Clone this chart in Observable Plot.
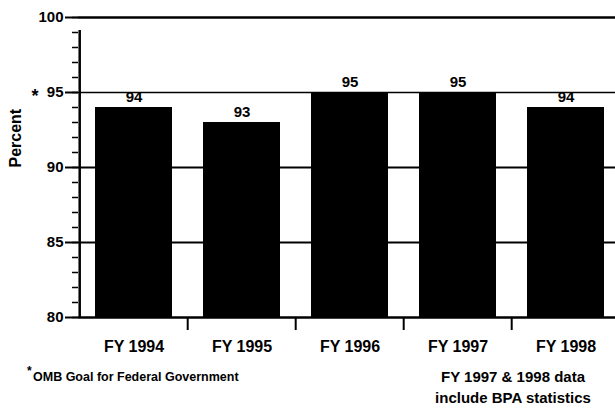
<!DOCTYPE html>
<html><head><meta charset="utf-8">
<script src="https://cdn.jsdelivr.net/npm/d3@7"></script>
<script src="https://cdn.jsdelivr.net/npm/@observablehq/plot@0.6"></script>
<style>
body{margin:0;background:#fff;}
#wrap{position:relative;width:615px;height:409px;overflow:hidden;font-family:"Liberation Sans",Arial,sans-serif;font-weight:bold;color:#000;}
#chart{position:absolute;left:0;top:0;}
.note{position:absolute;white-space:nowrap;line-height:1;}
</style></head><body><div id="wrap"><div id="chart"></div>
<div class="note" style="left:27px;top:365px;font-size:12px;">*</div>
<div class="note" id="foot" style="left:33px;top:371px;font-size:12.5px;"></div>
<div class="note" id="n1" style="left:433px;top:369px;width:160px;text-align:center;font-size:15px;"></div>
<div class="note" id="n2" style="left:433px;top:390px;width:160px;text-align:center;font-size:15px;"></div>
</div>
<script>
const years = ["FY 1994","FY 1995","FY 1996","FY 1997","FY 1998"];
const percents = [94,93,95,95,94];
const majorTicks = [80,85,90,95,100];
const minorTicks = d3.range(80,101);
const gridLines = [85,90];
const topLine = [100];
const goal = 95;
const footnote = "OMB Goal for Federal Government";
const noteLines = ["FY 1997 & 1998 data","include BPA statistics"];

const data = years.map((y,i)=>({year:y, value:percents[i]}));
const left = 78, right = 621, step = (right-left)/years.length;
const chart = Plot.plot({
  width:615, height:365, marginTop:17, marginBottom:48, marginLeft:78, marginRight:0,
  style:{fontFamily:"Liberation Sans, Arial, sans-serif", fontWeight:"bold", background:"#fff", color:"#000", overflow:"visible"},
  x:{type:"band", domain:years, range:[left,right], paddingInner:0.29, paddingOuter:0.145},
  y:{domain:[80,100]},
  marks:[
    Plot.ruleY(gridLines,{stroke:"#000", strokeWidth:2}),
    Plot.ruleY([goal],{stroke:"#000", strokeWidth:1.5}),
    Plot.ruleY(topLine,{stroke:"#000", strokeWidth:2.5}),
    Plot.barY(data,{x:"year", y1:80, y2:"value", fill:"#000"}),
    Plot.ruleY([80],{stroke:"#000", strokeWidth:2.5}),
    Plot.ruleX([years[0]],{dx:-step/2, y1:80, y2:100, insetBottom:-13, stroke:"#000", strokeWidth:2.5}),
    Plot.ruleX(years.slice(1),{dx:-step/2, y1:80, y2:80, insetBottom:-13, stroke:"#000", strokeWidth:2}),
    Plot.axisY({ticks:minorTicks, tickSize:6, tickFormat:()=>"", label:null, stroke:"#000", strokeWidth:1.5}),
    Plot.axisY({ticks:majorTicks, tickSize:13, tickPadding:2, fontSize:15, label:null, stroke:"#000", fill:"#000", strokeWidth:2}),
    Plot.axisX({tickSize:0, tickPadding:23, fontSize:16, label:null, fill:"#000"}),
    Plot.text(data,{x:"year", y:"value", text:d=>String(d.value), dy:-10, fontSize:15, fill:"#000"}),
    Plot.text(["*"],{y:[goal], frameAnchor:"left", dx:-47, dy:4, fontSize:18, fill:"#000"}),
    Plot.text(["Percent"],{frameAnchor:"left", dx:-63, rotate:-90, fontSize:16, fill:"#000"})
  ]
});
document.getElementById("chart").appendChild(chart);
document.getElementById("foot").textContent = footnote;
document.getElementById("n1").textContent = noteLines[0];
document.getElementById("n2").textContent = noteLines[1];
</script>
</body></html>
